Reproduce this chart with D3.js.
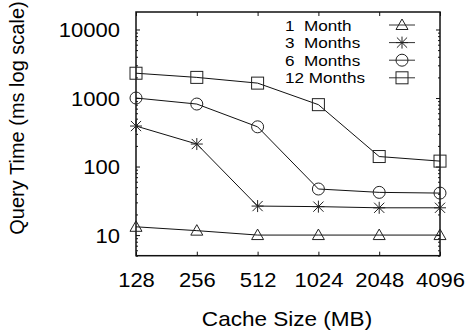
<!DOCTYPE html>
<html>
<head>
<meta charset="utf-8">
<script src="https://cdn.jsdelivr.net/npm/d3@7"></script>
<style>
  html, body { margin: 0; padding: 0; background: #fff; }
  svg { display: block; font-family: "Liberation Sans", Arial, Helvetica, sans-serif; }
</style>
</head>
<body>
<svg id="chart" width="466" height="331"></svg>
<script>
// Cache sizes (MB) on the x axis
const cacheSizes = ["128", "256", "512", "1024", "2048", "4096"];

// Query times (ms) per time window
const oneMonth     = [13.2, 11.6, 10, 10, 10, 10];
const threeMonths  = [390, 213, 26.5, 26, 25, 25];
const sixMonths    = [1000, 817, 380, 47, 42, 41];
const twelveMonths = [2300, 2000, 1650, 800, 140, 120];

const seriesNames = ["1  Month", "3  Months", "6  Months", "12 Months"];
const yTickValues = [10, 100, 1000, 10000];

const series = [
  { name: seriesNames[0], values: oneMonth,     symbol: "triangle" },
  { name: seriesNames[1], values: threeMonths,  symbol: "star" },
  { name: seriesNames[2], values: sixMonths,    symbol: "circle" },
  { name: seriesNames[3], values: twelveMonths, symbol: "square" }
];

const svg = d3.select("#chart");
const plot = { left: 136, right: 440, top: 12, bottom: 255.7 };
const wide = 1.1; // horizontal stretch of the horizontal labels

const x = d3.scalePoint().domain(cacheSizes).range([plot.left, plot.right]).padding(0);
const y = d3.scaleLog().domain([5, 18000]).range([plot.bottom, plot.top]);

// minor log ticks: 2..9 x 10^k inside the domain
const minorTicks = [];
for (let k = 0; k <= 4; k++) {
  for (let m = 2; m <= 9; m++) {
    const v = m * Math.pow(10, k);
    if (v >= y.domain()[0] && v <= y.domain()[1]) minorTicks.push(v);
  }
}

function styleAxis(g) {
  g.select(".domain").remove();
  g.selectAll("line").attr("stroke", "#111").attr("stroke-width", 1);
}

// left axis: major ticks with labels, minor ticks without
svg.append("g")
  .attr("transform", `translate(${plot.left},0)`)
  .call(d3.axisLeft(y).tickValues(yTickValues).tickSize(-4).tickPadding(16).tickFormat(d3.format("d")))
  .call(styleAxis)
  .call(g => g.selectAll("text")
    .attr("font-size", 20).attr("fill", "#000").attr("dy", "0.36em")
    .attr("x", 0).attr("transform", `translate(-16,0) scale(${wide},1)`)
    .style("font-family", "Liberation Sans, Arial, sans-serif"));

svg.append("g")
  .attr("transform", `translate(${plot.left},0)`)
  .call(d3.axisLeft(y).tickValues(minorTicks).tickSize(-2).tickFormat(""))
  .call(styleAxis);

// right axis mirrors the ticks, no labels
svg.append("g")
  .attr("transform", `translate(${plot.right},0)`)
  .call(d3.axisRight(y).tickValues(yTickValues).tickSize(-4).tickFormat(""))
  .call(styleAxis);
svg.append("g")
  .attr("transform", `translate(${plot.right},0)`)
  .call(d3.axisRight(y).tickValues(minorTicks).tickSize(-2).tickFormat(""))
  .call(styleAxis);

// bottom axis with labels
svg.append("g")
  .attr("transform", `translate(0,${plot.bottom})`)
  .call(d3.axisBottom(x).tickSize(-4))
  .call(styleAxis)
  .call(g => g.selectAll("text")
    .attr("font-size", 20).attr("fill", "#000").attr("y", 31).attr("dy", null)
    .attr("transform", `scale(${wide},1)`)
    .style("font-family", "Liberation Sans, Arial, sans-serif"));

// top axis mirrors the x ticks
svg.append("g")
  .attr("transform", `translate(0,${plot.top})`)
  .call(d3.axisTop(x).tickSize(-4).tickFormat(""))
  .call(styleAxis);

// plot frame
svg.append("rect")
  .attr("x", plot.left).attr("y", plot.top)
  .attr("width", plot.right - plot.left).attr("height", plot.bottom - plot.top)
  .attr("fill", "none").attr("stroke", "#111").attr("stroke-width", 1.5);

// axis titles
svg.append("text")
  .attr("transform", `translate(287,326) scale(${wide},1)`)
  .attr("text-anchor", "middle").attr("font-size", 20.5).attr("fill", "#000")
  .text("Cache Size (MB)");

svg.append("text")
  .attr("transform", "translate(24,118) rotate(-90)")
  .attr("text-anchor", "middle").attr("font-size", 20).attr("fill", "#000")
  .text("Query Time (ms log scale)");

// point symbols
function drawSymbol(g, type, cx, cy) {
  const s = 6;
  const common = sel => sel.attr("fill", "none").attr("stroke", "#222").attr("stroke-width", 1);
  if (type === "triangle") {
    g.append("path")
      .attr("d", `M${cx},${cy - s} L${cx + s},${cy + s * 0.75} L${cx - s},${cy + s * 0.75} Z`)
      .call(common);
  } else if (type === "circle") {
    g.append("circle").attr("cx", cx).attr("cy", cy).attr("r", s).call(common);
  } else if (type === "square") {
    g.append("rect").attr("x", cx - s).attr("y", cy - s)
      .attr("width", 2 * s).attr("height", 2 * s).call(common);
  } else if (type === "star") {
    const d = s * 0.85;
    g.append("path")
      .attr("d", `M${cx - s},${cy} L${cx + s},${cy} M${cx},${cy - s} L${cx},${cy + s}` +
                 ` M${cx - d},${cy - d} L${cx + d},${cy + d} M${cx - d},${cy + d} L${cx + d},${cy - d}`)
      .call(common);
  }
}

const line = d3.line()
  .x((d, i) => x(cacheSizes[i]))
  .y(d => y(d));

series.forEach(s => {
  const g = svg.append("g");
  g.append("path")
    .attr("d", line(s.values))
    .attr("fill", "none").attr("stroke", "#111").attr("stroke-width", 1);
  s.values.forEach((v, i) => drawSymbol(g, s.symbol, x(cacheSizes[i]), y(v)));
});

// legend
const legend = svg.append("g");
series.forEach((s, i) => {
  const cy = 25 + i * 17.6;
  legend.append("text")
    .attr("transform", `translate(285,${cy}) scale(1.12,1)`)
    .attr("dy", "0.36em")
    .attr("text-anchor", "start").attr("font-size", 15.3).attr("fill", "#000")
    .attr("xml:space", "preserve").style("white-space", "pre")
    .text(s.name);
  legend.append("line")
    .attr("x1", 389).attr("x2", 415).attr("y1", cy).attr("y2", cy)
    .attr("stroke", "#333").attr("stroke-width", 1);
  drawSymbol(legend, s.symbol, 402, cy);
});
</script>
</body>
</html>
